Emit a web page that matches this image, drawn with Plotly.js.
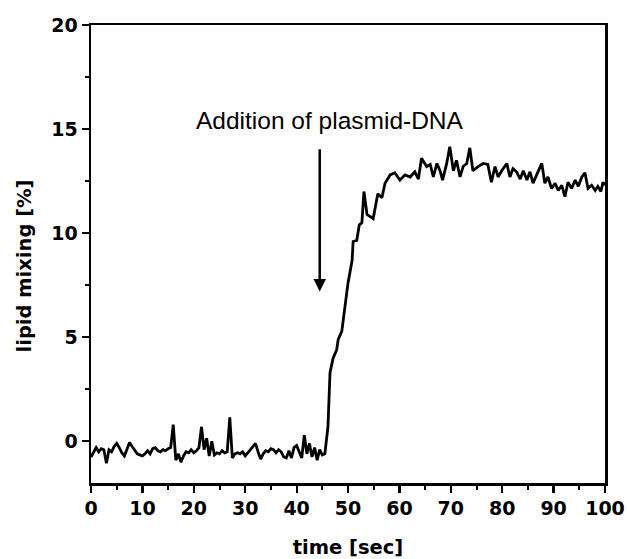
<!DOCTYPE html>
<html>
<head>
<meta charset="utf-8">
<script src="https://cdn.plot.ly/plotly-3.0.1.min.js"></script>
<style>html,body{margin:0;padding:0;background:#fff}#chart{width:627px;height:559px}</style>
</head>
<body>
<div id="chart"></div>
<script>
var timeSec = [0,0.5,1,1.5,2,2.5,3,3.5,4,4.5,5,5.5,6,6.5,7,7.5,8,8.5,9,9.5,10,10.5,11,11.5,12,12.5,13,13.5,14,14.5,15,15.5,16,16.5,17,17.5,18,18.5,19,19.5,20,20.5,21,21.5,22,22.5,23,23.5,24,24.5,25,25.5,26,26.5,27,27.5,28,28.5,29,29.5,30,30.5,31,31.5,32,32.5,33,33.5,34,34.5,35,35.5,36,36.5,37,37.5,38,38.5,39,39.5,40,40.5,41,41.5,42,42.5,43,43.5,44,44.5,45,45.5,
46.1,46.5,47.1,47.8,48.1,48.8,49.4,50.0,50.8,51.0,51.7,52.2,52.7,53.1,53.7,54.3,54.9,55.8,56.6,57.2,58.2,59.1,60.1,61.1,62.1,63.0,63.7,64.3,65.3,66.0,66.6,67.3,67.9,68.4,69.2,69.8,70.5,71.1,71.8,72.4,73.1,73.7,74.3,75.3,76.3,77.2,77.9,78.6,79.2,79.9,80.9,81.5,82.1,82.8,83.5,84.1,84.8,85.4,86.0,86.7,87.7,88.3,88.9,89.6,90.3,90.9,91.6,92.2,92.8,93.5,94.2,94.8,95.5,96.1,96.7,97.4,98.1,98.6,99.2,99.6,100];
var lipidMixing = [-0.75,-0.5,-0.3,-0.5,-0.35,-0.4,-1.05,-0.4,-0.5,-0.25,-0.1,-0.3,-0.55,-0.7,-0.4,-0.05,-0.25,-0.45,-0.6,-0.65,-0.7,-0.6,-0.45,-0.6,-0.35,-0.3,-0.45,-0.5,-0.4,-0.45,-0.35,-0.3,0.8,-0.9,-0.6,-1.0,-0.7,-0.5,-0.55,-0.4,-0.55,-0.45,-0.3,0.7,-0.4,0.15,-0.7,0.0,-0.65,-0.55,-0.6,-0.45,-0.55,-0.5,1.15,-0.8,-0.6,-0.55,-0.6,-0.5,-0.7,-0.55,-0.4,-0.2,-0.1,-0.5,-0.85,-0.6,-0.45,-0.5,-0.35,-0.4,-0.55,-0.4,-0.5,-0.75,-0.8,-0.45,-0.8,-0.3,-0.2,-0.5,-0.8,0.3,-0.6,-0.1,-0.75,-0.3,-0.9,-0.4,-0.65,-0.6,
0.7,3.3,4.0,4.4,4.9,5.3,6.6,7.6,8.7,9.6,9.65,10.4,10.5,12.0,10.9,10.8,10.7,11.9,11.7,12.4,12.8,12.9,12.55,12.8,12.7,12.95,12.6,13.6,13.2,13.3,12.7,13.35,13.0,12.55,13.35,14.15,13.0,13.5,12.7,13.2,13.35,14.1,13.0,13.2,13.35,13.3,12.45,13.2,12.7,13.0,13.35,12.7,13.1,12.95,12.6,13.0,12.55,12.95,12.4,12.8,13.35,12.4,12.7,12.15,12.4,12.05,12.3,11.75,12.45,12.15,12.55,12.25,12.7,12.9,12.15,12.3,12.05,12.25,12.0,12.45,12.3];
var xTicks = [0,10,20,30,40,50,60,70,80,90,100];
var yTicks = [0,5,10,15,20];
var xTitle = "time [sec]";
var yTitle = "lipid mixing [%]";
var annotationText = "Addition of plasmid-DNA";
var arrowTime = 44.5, arrowFrom = 14.1, arrowTo = 7.2;
var labelTime = 46.5, labelValue = 15.4;
var yTitleValue = 8.4;

var font = "Liberation Sans, Arial, sans-serif";
var boldFont = "DejaVu Sans, sans-serif";
var trace = {x: timeSec, y: lipidMixing, type: 'scatter', mode: 'lines',
  line: {color: '#000', width: 2.8}, hoverinfo: 'skip'};
var axisCommon = {showline: true, linecolor: '#000', linewidth: 2.5, mirror: true,
  ticks: 'outside', tickcolor: '#000', tickwidth: 2.2, ticklen: 7, showgrid: false, zeroline: false,
  tickfont: {family: boldFont, size: 19, color: '#000', weight: 'bold'}};
var layout = {
  width: 627, height: 559,
  margin: {l: 91, r: 22, t: 25, b: 76},
  paper_bgcolor: '#fff', plot_bgcolor: '#fff',
  showlegend: false,
  xaxis: Object.assign({}, axisCommon, {range: [0, 100], tickvals: xTicks, ticktext: xTicks.map(String),
    minor: {dtick: 5, ticklen: 4, tickwidth: 2, tickcolor: '#000', ticks: 'outside'},
    title: {text: xTitle, font: {family: boldFont, size: 19.5, color: '#000', weight: 'bold'}, standoff: 23}}),
  yaxis: Object.assign({}, axisCommon, {range: [-2, 20], tickvals: yTicks, ticktext: yTicks.map(String),
    minor: {dtick: 2.5, tick0: 0, ticklen: 4, tickwidth: 2, tickcolor: '#000', ticks: 'outside'}}),
  annotations: [
    {x: labelTime, y: labelValue, xref: 'x', yref: 'y', text: annotationText, showarrow: false,
     font: {family: font, size: 24.5, color: '#000'}},
    {x: arrowTime, y: arrowTo, ax: arrowTime, ay: arrowFrom, xref: 'x', yref: 'y', axref: 'x', ayref: 'y',
     text: '', showarrow: true, arrowhead: 2, arrowsize: 1, arrowwidth: 2.5, arrowcolor: '#000'},
    {x: 0, xref: 'paper', xshift: -67, y: yTitleValue, yref: 'y', text: yTitle, textangle: -90,
     showarrow: false, xanchor: 'center', yanchor: 'middle',
     font: {family: boldFont, size: 19.5, color: '#000', weight: 'bold'}}
  ]
};
Plotly.newPlot('chart', [trace], layout, {displayModeBar: false, staticPlot: true});
</script>
</body>
</html>
